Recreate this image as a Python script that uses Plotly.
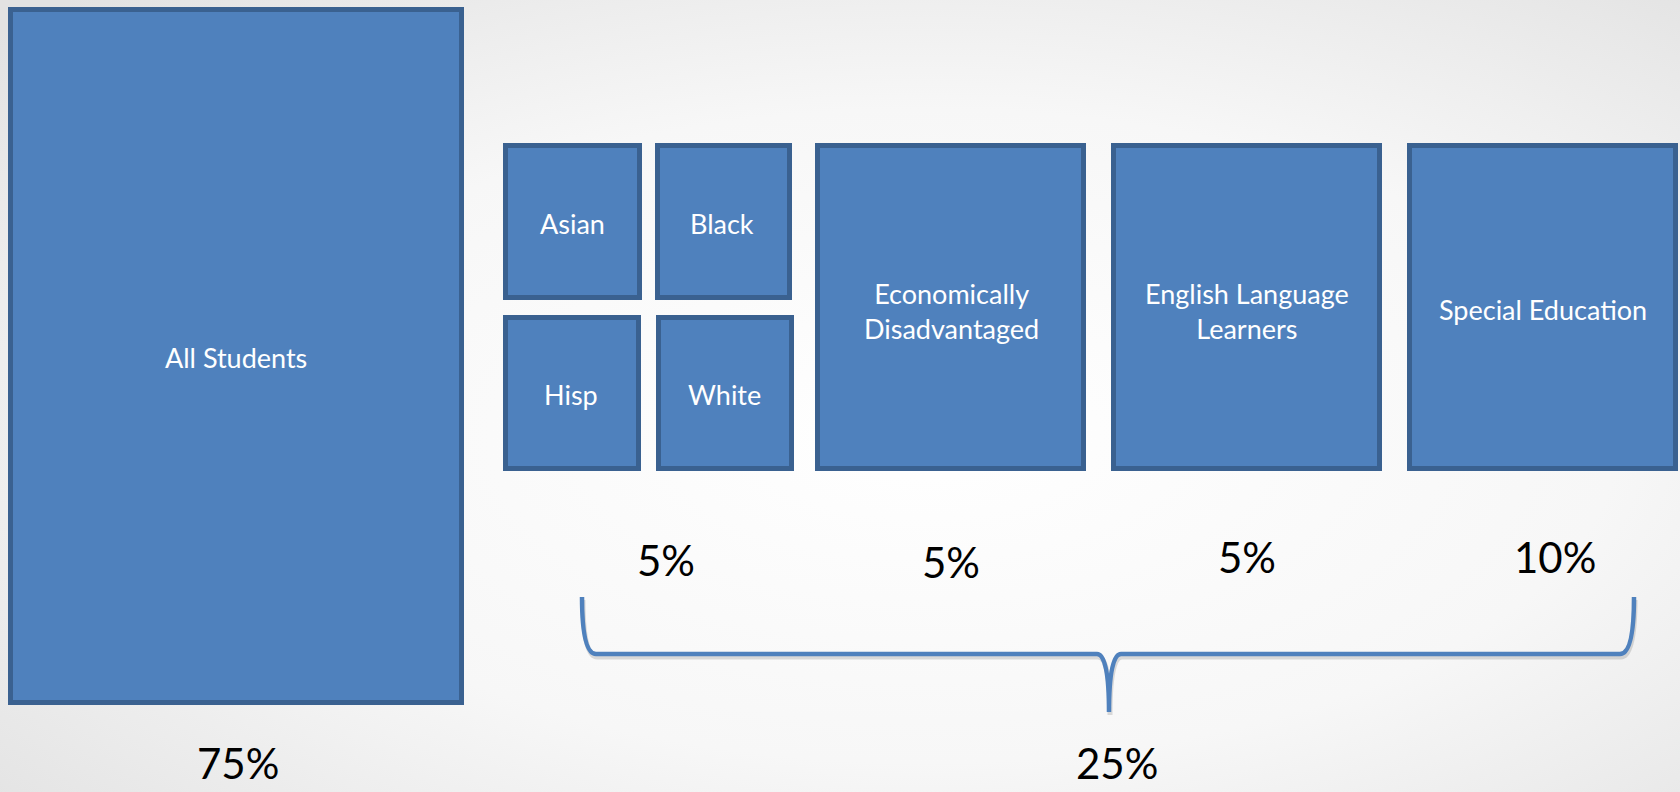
import plotly.graph_objects as go
import base64

# ---- data ----
groups = ["All Students", "Asian", "Black", "Hisp", "White",
          "Economically<br>Disadvantaged", "English Language<br>Learners", "Special Education"]
pct_labels = ["75%", "5%", "5%", "5%", "10%", "25%"]

# ---- layout geometry (pixel space, y downward) ----
W, H = 1680, 792
boxes = [  # x0, y0, x1, y1 (outer edges)
    (8, 7, 464, 705),
    (503, 143, 642, 300),
    (655, 143, 792, 300),
    (503, 315, 641, 471),
    (656, 315, 794, 471),
    (815, 143, 1086, 471),
    (1111, 143, 1382, 471),
    (1407, 143, 1678, 471),
]
box_label_pos = [(236, 357), (572, 223), (722, 223), (571, 394), (724, 394),
                 (951, 311), (1247, 311), (1543, 309)]
pct_pos = [(238, None), (666, 560), (951, 562), (1247, 557), (1555, 557), (1117, None)]

FILL = "#4F81BD"
EDGE = "#3A6190"
FONT = "Lato"

fig = go.Figure()

# background radial gradient via SVG
svg = f'''<svg xmlns="http://www.w3.org/2000/svg" width="{W}" height="{H}">
<defs><radialGradient id="g" cx="0.55" cy="0.55" r="0.75">
<stop offset="0" stop-color="#FFFFFF"/><stop offset="0.55" stop-color="#F7F7F7"/>
<stop offset="1" stop-color="#E2E2E2"/></radialGradient></defs>
<rect width="{W}" height="{H}" fill="url(#g)"/></svg>'''
src = "data:image/svg+xml;base64," + base64.b64encode(svg.encode()).decode()
fig.add_layout_image(source=src, xref="x", yref="y", x=0, y=0, sizex=W, sizey=H,
                     xanchor="left", yanchor="top", sizing="stretch", layer="below")

shapes = []
lw = 5
for (x0, y0, x1, y1) in boxes:
    shapes.append(dict(type="rect", xref="x", yref="y", x0=x0 + 2, y0=y0 + 3, x1=x1 + 2, y1=y1 + 3,
                       line=dict(width=0), fillcolor="rgba(0,0,0,0.12)", layer="below"))
    shapes.append(dict(type="rect", xref="x", yref="y",
                       x0=x0 + lw / 2, y0=y0 + lw / 2, x1=x1 - lw / 2, y1=y1 - lw / 2,
                       line=dict(color=EDGE, width=lw), fillcolor=FILL, layer="above"))

# curly bracket
bx0, bx1, by_top, by_line, bmid, btip = 582, 1634, 597, 654, 1109, 712
path = (f"M {bx0},{by_top} Q {bx0},{by_line} {bx0+14},{by_line} L {bmid-12},{by_line} "
        f"Q {bmid},{by_line} {bmid},{btip} Q {bmid},{by_line} {bmid+12},{by_line} "
        f"L {bx1-14},{by_line} Q {bx1},{by_line} {bx1},{by_top}")
shadow = (f"M {bx0+1},{by_top+3} Q {bx0+1},{by_line+3} {bx0+15},{by_line+3} L {bmid-11},{by_line+3} "
          f"Q {bmid+1},{by_line+3} {bmid+1},{btip+3} Q {bmid+1},{by_line+3} {bmid+13},{by_line+3} "
          f"L {bx1-13},{by_line+3} Q {bx1+1},{by_line+3} {bx1+1},{by_top+3}")
shapes.append(dict(type="path", xref="x", yref="y", path=shadow,
                   line=dict(color="rgba(0,0,0,0.13)", width=5), layer="above"))
shapes.append(dict(type="path", xref="x", yref="y", path=path,
                   line=dict(color=FILL, width=4.5), layer="above"))
fig.update_layout(shapes=shapes)

for lab, (x, y) in zip(groups, box_label_pos):
    fig.add_annotation(x=x, y=y, xref="x", yref="y", text=lab, showarrow=False,
                       font=dict(family=FONT, size=27, color="white"), align="center")

for lab, (x, y) in zip(pct_labels, pct_pos):
    if y is None:
        fig.add_annotation(x=x, y=H - 2, xref="x", yref="y", text=lab, showarrow=False,
                           yanchor="bottom",
                           font=dict(family=FONT, size=42, color="black"), align="center")
    else:
        fig.add_annotation(x=x, y=y, xref="x", yref="y", text=lab, showarrow=False,
                           font=dict(family=FONT, size=42, color="black"), align="center")

fig.update_xaxes(range=[0, W], visible=False, fixedrange=True)
fig.update_yaxes(range=[H, 0], visible=False, fixedrange=True)
fig.update_layout(width=W, height=H, margin=dict(l=0, r=0, t=0, b=0),
                  paper_bgcolor="#F2F2F2", plot_bgcolor="rgba(0,0,0,0)", showlegend=False)

fig.write_html("out.html", config={"displayModeBar": False},
               post_script="document.body.style.margin='0';document.body.style.overflow='hidden';")
